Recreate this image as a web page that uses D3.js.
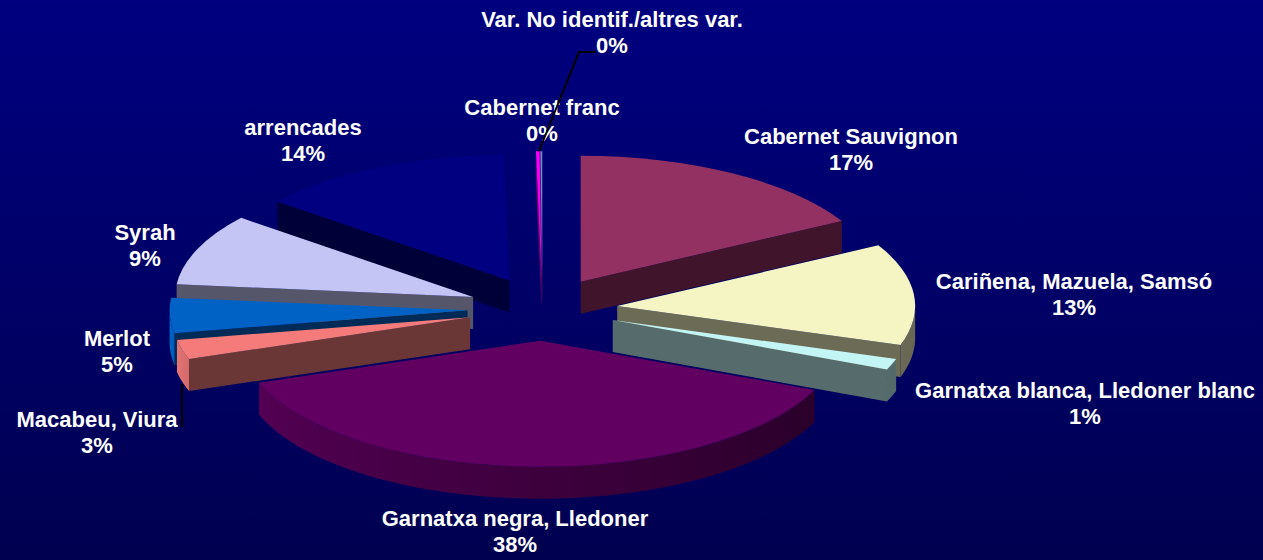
<!DOCTYPE html>
<html>
<head>
<meta charset="utf-8">
<style>
html, body { margin: 0; padding: 0; background: #000050; }
svg { display: block; }
text { font-family: "Liberation Sans", Arial, sans-serif; font-weight: bold; font-size: 22px; fill: #fff; text-anchor: middle; }
</style>
<script src="https://cdn.jsdelivr.net/npm/d3@7"></script>
</head>
<body>
<div class="canvas"></div>
<script>
const categories = ['Cabernet Sauvignon', 'Cariñena, Mazuela, Samsó', 'Garnatxa blanca, Lledoner blanc', 'Garnatxa negra, Lledoner', 'Macabeu, Viura', 'Merlot', 'Syrah', 'arrencades', 'Var. No identif./altres var.', 'Cabernet franc'];
const shares = [17.0, 13.0, 1.4, 38.2, 2.5, 4.5, 9.2, 13.9, 0.2, 0.1];
const colors = ['#993366', '#ffffcc', '#ccffff', '#660066', '#ff8080', '#0066cc', '#ccccff', '#000085', '#ff00ff', '#8090d0'];

// label centres, same order as categories
const labelX = [851, 1074, 1085, 515, 97, 117, 145, 303, 612, 542];
const labelY = [137, 282, 391, 519, 420, 339, 233, 128, 20, 108];

const width = 1263;
const height = 560;
const cx = 542.5;
const cy = 309;
const rx = 298;
const ry = 126;
const depth = 32;
const explode = 75;
const tilt = ry / rx;

const svg = d3.select('.canvas')
    .append('svg')
    .attr('width', width)
    .attr('height', height)
;

const defs = svg.append('defs');
const bg = defs.append('linearGradient')
    .attr('id', 'bg')
    .attr('x1', 0).attr('y1', 0).attr('x2', 0).attr('y2', 1)
;
bg.append('stop').attr('offset', '0%').attr('stop-color', '#000080');
bg.append('stop').attr('offset', '100%').attr('stop-color', '#000050');

svg.append('rect')
    .attr('width', width)
    .attr('height', height)
    .attr('fill', 'url(#bg)')
;

const pie = d3.pie().sort(null).value(d => d.share);
const slices = pie(categories.map((name, i) => ({ name, share: shares[i], color: colors[i] })))
    .map((s, i) => ({
        ...s,
        i,
        mid: (s.startAngle + s.endAngle) / 2,
    }))
;

// apex of an exploded slice, on screen
const apex = s => [
    cx + explode * Math.sin(s.mid),
    cy - explode * tilt * Math.cos(s.mid),
];
const rim = (a, angle) => [
    a[0] + rx * Math.sin(angle),
    a[1] - ry * Math.cos(angle),
];

const shade = (color, k) => {
    const c = d3.rgb(color);
    return d3.rgb(c.r * k, c.g * k, c.b * k).formatHex();
};

// how much light the rim wall gets at a given angle (degrees clockwise from top)
const rimLight = d3.scaleLinear()
    .domain([90, 120, 180, 250, 270])
    .range([0.4, 0.42, 0.6, 0.82, 1])
    .clamp(true)
;

const arc = d3.arc().innerRadius(0).outerRadius(rx);
const line = d3.line();
const graph = svg.append('g');

// back to front
const order = slices.slice().sort((a, b) => apex(a)[1] - apex(b)[1]);

order.forEach(s => {
    const g = graph.append('g');
    const a = apex(s);
    const wall = (angle) => {
        const p = rim(a, angle);
        g.append('path')
            .attr('d', line([a, p, [p[0], p[1] + depth], [a[0], a[1] + depth]]) + 'Z')
            .attr('fill', shade(s.data.color, 0.42))
        ;
    };

    if (Math.sin(s.startAngle) < 0) wall(s.startAngle);
    if (Math.sin(s.endAngle) > 0) wall(s.endAngle);

    // rim wall, only the part facing us, shaded with a gradient along x
    const from = Math.max(s.startAngle, Math.PI / 2);
    const to = Math.min(s.endAngle, Math.PI * 1.5);
    if (to > from) {
        const steps = Math.ceil((to - from) / (Math.PI / 90));
        const angles = d3.range(steps + 1).map(k => from + (to - from) * k / steps);
        const upper = angles.map(t => rim(a, t));
        const lower = upper.map(p => [p[0], p[1] + depth]).reverse();
        const x0 = upper[0][0];
        const x1 = upper[steps][0];

        const grad = defs.append('linearGradient')
            .attr('id', `rim-${s.i}`)
            .attr('gradientUnits', 'userSpaceOnUse')
            .attr('x1', x0).attr('y1', 0).attr('x2', x1).attr('y2', 0)
        ;
        angles.forEach((t, k) => {
            grad.append('stop')
                .attr('offset', (upper[k][0] - x0) / (x1 - x0))
                .attr('stop-color', shade(s.data.color, rimLight(t * 180 / Math.PI)))
            ;
        });

        g.append('path')
            .attr('d', line(upper.concat(lower)) + 'Z')
            .attr('fill', `url(#rim-${s.i})`)
        ;
    }

    // top face, squashed circle
    g.append('path')
        .attr('d', arc(s))
        .attr('transform', `translate(${a[0]}, ${a[1]}) scale(1, ${tilt})`)
        .attr('fill', shade(s.data.color, 0.96))
    ;
});

// labels
slices.forEach(s => {
    const label = svg.append('text')
        .attr('x', labelX[s.i])
        .attr('y', labelY[s.i] + 7)
    ;
    label.append('tspan').text(s.data.name);
    label.append('tspan')
        .attr('x', labelX[s.i])
        .attr('dy', 26)
        .text(Math.round(s.data.share) + '%')
    ;
});

// leader lines
const leaders = [
    [[596, 52], [579, 52], [539, 151]],
    [[182, 384], [182, 427]],
];
svg.selectAll('.leader')
    .data(leaders)
    .enter()
    .append('path')
        .attr('class', 'leader')
        .attr('d', line)
        .attr('fill', 'none')
        .attr('stroke', '#000')
        .attr('stroke-width', 2)
;
</script>
</body>
</html>
